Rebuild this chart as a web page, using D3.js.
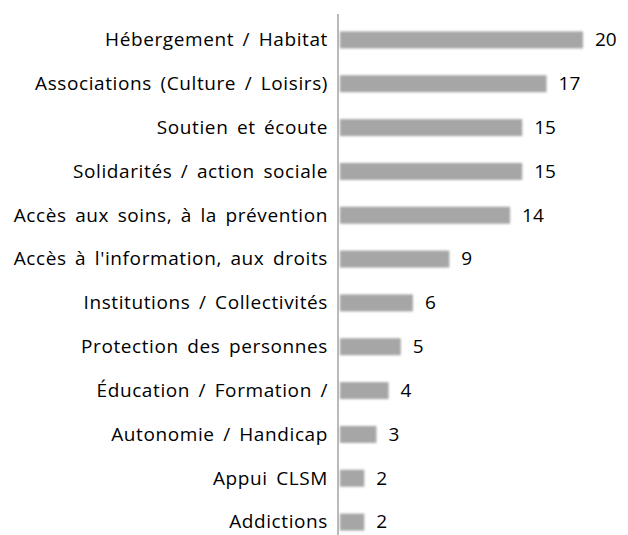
<!DOCTYPE html>
<meta charset="utf-8">
<head>
  <style>
    body { margin: 0; background: #fff; }
    .label, .value { font-family: "Open Sans", Lato, sans-serif; font-size: 19px; fill: #000; }
    .label { letter-spacing: 0.6px; word-spacing: 3px; }
  </style>
</head>
<body>
  <script src="https://d3js.org/d3.v7.min.js"></script>
  <script>
    var categories = [
      "Hébergement / Habitat",
      "Associations (Culture / Loisirs)",
      "Soutien et écoute",
      "Solidarités / action sociale",
      "Accès aux soins, à la prévention",
      "Accès à l'information, aux droits",
      "Institutions / Collectivités",
      "Protection des personnes",
      "Éducation / Formation /",
      "Autonomie / Handicap",
      "Appui CLSM",
      "Addictions"
    ];
    var values = [20, 17, 15, 15, 14, 9, 6, 5, 4, 3, 2, 2];

    var width = 628, height = 535;
    var axisX = 338;

    var svg = d3.select("body").append("svg")
      .attr("width", width)
      .attr("height", height);

    // soft edges on the bars
    svg.append("defs").append("filter")
      .attr("id", "soft")
      .attr("x", "-10%").attr("y", "-50%")
      .attr("width", "120%").attr("height", "200%")
      .append("feGaussianBlur")
      .attr("stdDeviation", 1);

    var y = d3.scalePoint()
      .domain(categories)
      .range([18, 544])
      .padding(0.5);

    var x = d3.scaleLinear()
      .domain([0, 20])
      .range([axisX + 2, 583]);

    var barH = 17;

    svg.selectAll(".bar")
      .data(categories)
      .enter().append("rect")
      .attr("class", "bar")
      .attr("x", x(0))
      .attr("y", function (d) { return y(d) - barH / 2; })
      .attr("width", function (d, i) { return x(values[i]) - x(0); })
      .attr("height", barH)
      .attr("fill", "#a6a6a6")
      .attr("filter", "url(#soft)");

    svg.selectAll(".value")
      .data(categories)
      .enter().append("text")
      .attr("class", "value")
      .attr("x", function (d, i) { return x(values[i]) + 12; })
      .attr("y", function (d) { return y(d); })
      .attr("dy", "0.33em")
      .text(function (d, i) { return values[i]; });

    svg.selectAll(".label")
      .data(categories)
      .enter().append("text")
      .attr("class", "label")
      .attr("x", axisX - 10)
      .attr("y", function (d) { return y(d); })
      .attr("dy", "0.33em")
      .attr("text-anchor", "end")
      .text(function (d) { return d; });

    // vertical axis line
    svg.append("line")
      .attr("x1", axisX).attr("x2", axisX)
      .attr("y1", 14).attr("y2", height)
      .attr("stroke", "#8c8c8c")
      .attr("stroke-width", 1.2);
  </script>
</body>
